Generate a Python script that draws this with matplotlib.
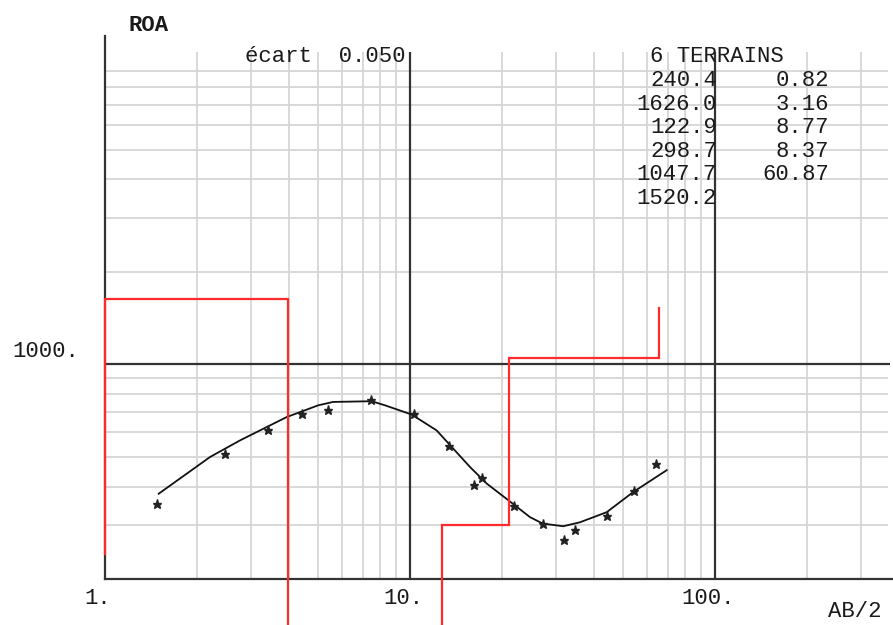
import numpy as np
import matplotlib
matplotlib.use("Agg")
import matplotlib.pyplot as plt

# ---------------- data ----------------
# measured apparent resistivity (AB/2, ROA)
ab2_meas = [1.48, 2.47, 3.43, 4.44, 5.37, 7.45, 10.33, 13.45, 16.25, 17.26,
            21.98, 27.29, 32.05, 34.75, 44.16, 54.38, 64.07]
roa_meas = [352, 509, 613, 691, 712, 763, 691, 542, 406, 426,
            345, 302, 268, 289, 320, 387, 475]

# fitted (computed) curve
ab2_fit = [1.50, 2.21, 2.77, 3.94, 5.00, 5.60, 7.49, 8.28, 10.13, 12.23,
           13.87, 15.73, 17.84, 21.0, 24.74, 27.23, 31.81, 36.09, 44.16,
           53.97, 69.44]
roa_fit = [379, 499, 565, 673, 735, 754, 758, 735, 686, 609,
           531, 463, 409, 361, 318, 303, 297, 306, 330, 384, 452]

# layered model: 6 terrains
layer_rho = [240.4, 1626.0, 122.9, 298.7, 1047.7, 1520.2]
layer_thk = [0.82, 3.16, 8.77, 8.37, 60.87]
model_x_end = 65.5
ecart = 0.050

x_ticks = [1, 10, 100]
x_ticklabels = ["1.", "10.", "100."]
y_ticklabels = {1000: "1000."}

# ---------------- figure ----------------
W, H = 893, 625
fig = plt.figure(figsize=(W / 100, H / 100), dpi=100)
x0, x1, ytop, ybot = 105, 893, 36, 579
ax = fig.add_axes([x0 / W, (H - ybot) / H, (x1 - x0) / W, (ybot - ytop) / H])
ax.set_xscale("log")
ax.set_yscale("log")
xmax = 10 ** ((x1 - x0) / 305.0)
ymax = 10 ** (3 + (364 - ytop) / 307.0)
ax.set_xlim(1, xmax)
ax.set_ylim(200, ymax)
ax.set_xticks([])
ax.set_yticks([])
ax.xaxis.set_minor_locator(matplotlib.ticker.NullLocator())
ax.yaxis.set_minor_locator(matplotlib.ticker.NullLocator())
for s in ["top", "right"]:
    ax.spines[s].set_visible(False)
for s in ["left", "bottom"]:
    ax.spines[s].set_color("#333333")
    ax.spines[s].set_linewidth(1.6)

grid_c = "#d6d6d6"
grid_lw = 1.3
vtop = 10 ** (3 + (364 - 52) / 307.0)
hright = 370
# vertical grid
for dec in [1, 10, 100]:
    for m in range(2, 10):
        v = dec * m
        if v < xmax:
            ax.plot([v, v], [200, vtop], color=grid_c, lw=grid_lw, zorder=1,
                    solid_capstyle="butt")
for v in [10, 100]:
    ax.plot([v, v], [200, vtop], color="#333333", lw=1.6, zorder=2,
            solid_capstyle="butt")
# horizontal grid
for dec in [100, 1000]:
    for m in range(2, 10):
        v = dec * m
        if 200 < v < ymax:
            ax.plot([1, hright], [v, v], color=grid_c, lw=grid_lw, zorder=1,
                    solid_capstyle="butt")
ax.plot([1, 10 ** (785 / 305.0)], [1000, 1000], color="#333333", lw=1.6,
        zorder=2, solid_capstyle="butt")

# red model (step path, boundaries clamped to the plotted AB/2 range)
depths = np.clip(np.cumsum(layer_thk), 1, model_x_end)
px, py = [1, 1], [layer_rho[0], layer_rho[1]]
for i, d in enumerate(depths[1:]):
    px += [d, d]
    py += [layer_rho[i + 1], layer_rho[i + 2]]
ax.plot(px, py, color="#ff2a2a", lw=1.6, zorder=5, clip_on=False,
        solid_joinstyle="miter")

# fitted curve
ax.plot(ab2_fit, roa_fit, color="#111111", lw=1.3, zorder=4)
# measured points
ax.plot(ab2_meas, roa_meas, ls="none", marker="*", ms=6.5, color="#222222",
        zorder=6)

# ---------------- texts ----------------
font = dict(family="Liberation Mono", size=16, color="#1a1a1a")

def ptext(x, y, s, ha="left", **kw):
    fig.text(x / W, 1 - y / H, s, ha=ha, va="baseline", **font, **kw)

ptext(128, 31, "ROA", weight="bold")
ptext(245, 62, "écart  %.3f" % ecart)
ptext(650, 62, "%d TERRAINS" % len(layer_rho))
for i, r in enumerate(layer_rho):
    ptext(717, 86 + i * 23.6, "%.1f" % r, ha="right")
for i, t in enumerate(layer_thk):
    ptext(829, 86 + i * 23.6, "%.2f" % t, ha="right")
ptext(12, 357, y_ticklabels[1000])
for xv, lab in zip(x_ticks, x_ticklabels):
    xp = x0 + 305 * np.log10(xv)
    ptext(xp - 7, 604, lab, ha="center")
ptext(828, 617, "AB/2")

fig.savefig("out.png", dpi=100)
